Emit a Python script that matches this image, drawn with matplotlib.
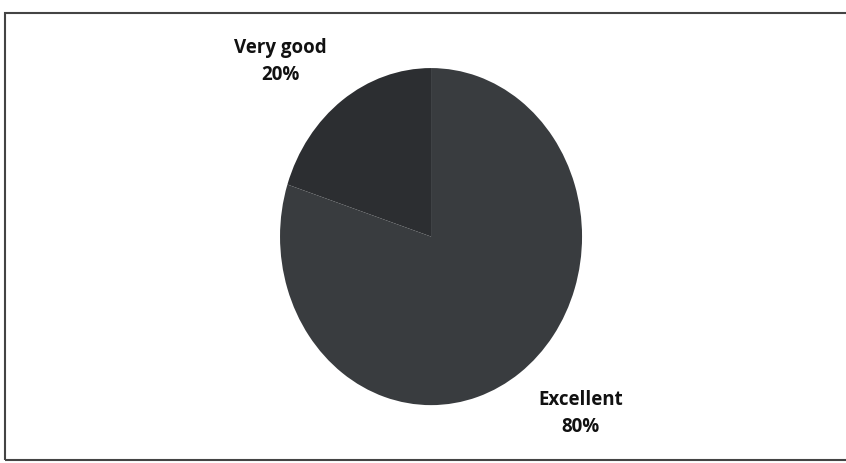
import matplotlib.pyplot as plt
from matplotlib.patches import Rectangle

labels = ["Very good", "Excellent"]
values = [20, 80]
colors = ["#2c2e31", "#393c3f"]

fig = plt.figure(figsize=(8.46, 4.63), dpi=100)
fig.patch.set_facecolor("white")

# pie is drawn squashed (taller than wide), like the scan
ax = fig.add_axes([0.331, 0.125, 0.357, 0.728])
wedges, texts = ax.pie(values, labels=[f"{l}\n{v}%" for l, v in zip(labels, values)],
                       colors=colors, startangle=90, counterclock=True,
                       labeldistance=1.3, wedgeprops=dict(linewidth=0))
ax.set_xlim(-1, 1)
ax.set_ylim(-1, 1)
ax.set_aspect("auto")

# label placement as in the original
label_pos = [(-1.0, 1.04), (0.99, -1.05)]
for t, p in zip(texts, label_pos):
    t.set_position(p)
    t.set_ha("center")
    t.set_va("center")
    t.set_fontsize(13.5)
    t.set_fontweight("bold")
    t.set_family(["Open Sans", "DejaVu Sans"])
    t.set_linespacing(1.5)
    t.set_color("#111111")

# frame around the chart
fig.patches.append(Rectangle((0.006, 0.006), 1.2, 0.966, transform=fig.transFigure,
                             fill=False, edgecolor="#444444", linewidth=1.5))

fig.savefig("out.png", dpi=100, facecolor="white")
